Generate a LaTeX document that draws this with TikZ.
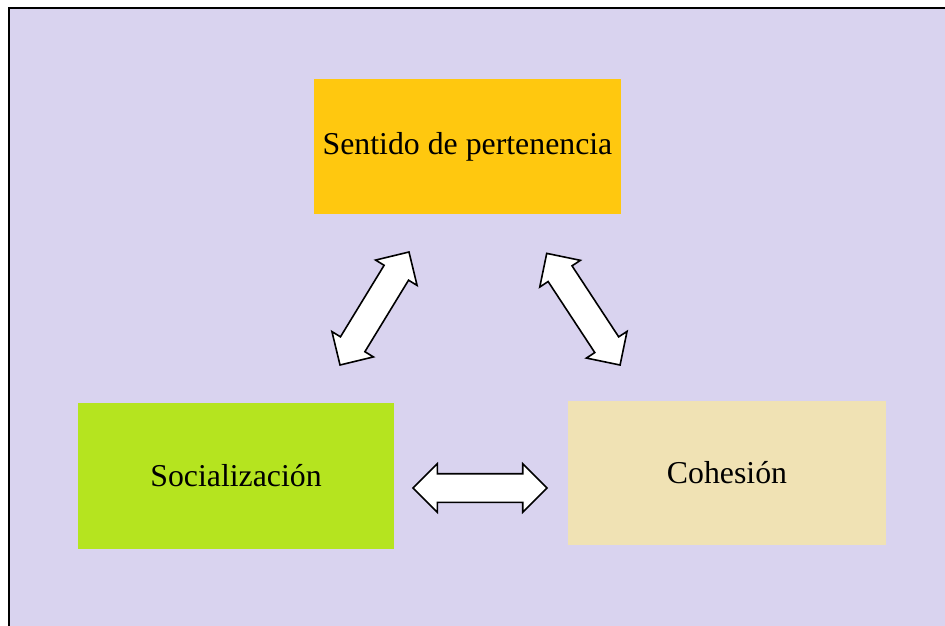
\documentclass[tikz,border=0pt]{standalone}
\usepackage{fontspec}
\setmainfont{Liberation Serif}
\usetikzlibrary{shapes.arrows}

\definecolor{lavfill}{RGB}{217,211,239}
\definecolor{sentfill}{RGB}{255,200,15}
\definecolor{socfill}{RGB}{181,228,31}
\definecolor{cohfill}{RGB}{240,226,180}

\tikzset{
  concept/.style={inner sep=0pt, align=center, font=\fontsize{15.9}{19}\selectfont},
  biarrow/.style={double arrow, draw=black, fill=white, line width=0.8pt,
    inner xsep=0pt, inner ysep=6.75pt, double arrow head extend=5pt,
    double arrow tip angle=90, line join=miter}
}

\begin{document}
\begin{tikzpicture}[x=0.5pt, y=-0.5pt]

  \useasboundingbox (0,0) rectangle (945,625);

  %% background panel
  \fill[lavfill] (9,8) rectangle (960,640);
  \draw[line width=1pt] (9,640) -- (9,8) -- (960,8);

  %% concept boxes
  \node[concept, fill=sentfill, minimum width=153.5pt, minimum height=67.5pt] (sent) at (467.5,146.5) {Sentido de pertenencia};
  \node[concept, fill=socfill, minimum width=158pt, minimum height=73pt] (soc) at (236,476) {Socialización};
  \node[concept, fill=cohfill, minimum width=159pt, minimum height=72pt] (coh) at (727,473) {Cohesión};

  %% two-way arrows
  \node[biarrow, minimum height=66.2pt, rotate=58.6] (socsent) at (374.5,308.5) {}; % soc<->sent
  \node[biarrow, minimum height=66.8pt, rotate=-56.7] (sentcoh) at (583.4,309.2) {}; % sent<->coh
  \node[biarrow, minimum height=67pt] (soccoh) at (480,488) {}; % soc<->coh

\end{tikzpicture}
\end{document}
